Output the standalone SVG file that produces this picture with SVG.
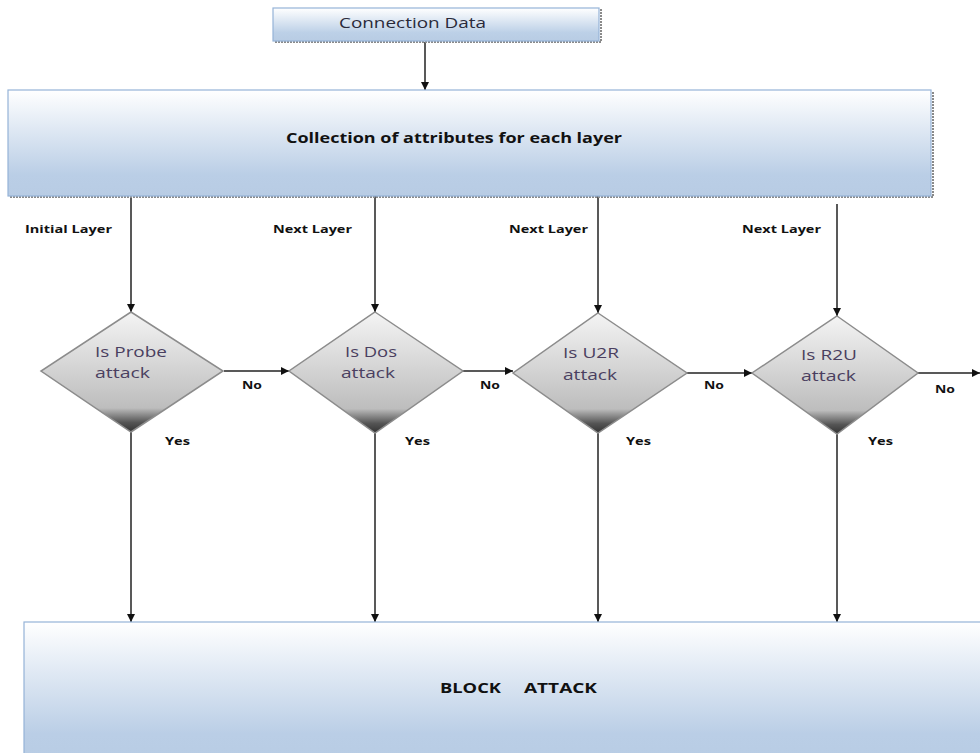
<svg xmlns="http://www.w3.org/2000/svg" width="980" height="753" viewBox="0 0 980 753">
<defs>
<linearGradient id="boxg" x1="0" y1="0" x2="0" y2="1">
<stop offset="0" stop-color="#ffffff"/>
<stop offset="0.75" stop-color="#bcd0e7"/>
<stop offset="1" stop-color="#b8cce4"/>
</linearGradient>
<linearGradient id="bigg" x1="0" y1="0" x2="0" y2="1">
<stop offset="0" stop-color="#ffffff"/>
<stop offset="0.8" stop-color="#bacee6"/>
<stop offset="1" stop-color="#b8cce4"/>
</linearGradient>
<linearGradient id="dg" x1="0" y1="0" x2="0" y2="1">
<stop offset="0" stop-color="#f4f4f4"/>
<stop offset="0.8" stop-color="#bdbdbd"/>
<stop offset="0.84" stop-color="#9a9a9a"/>
<stop offset="0.92" stop-color="#555555"/>
<stop offset="1" stop-color="#333333"/>
</linearGradient>
<marker id="ah" viewBox="0 0 10 10" refX="10" refY="5" markerWidth="8" markerHeight="8" markerUnits="userSpaceOnUse" orient="auto">
<path d="M0,0 L10,5 L0,10 z" fill="#111"/>
</marker>
</defs>
<style>
.box{fill:url(#boxg);stroke:#95b3d7;stroke-width:1.2}
.shadow{fill:none;stroke:#8a8a8a;stroke-width:2;stroke-dasharray:2 1}
.dia{fill:url(#dg);stroke:#8c8c8c;stroke-width:1.5}
.ln{fill:none;stroke:#222;stroke-width:1.5;marker-end:url(#ah)}
.lab{font-family:"Open Sans",Lato,"Liberation Sans",sans-serif;font-weight:bold;font-size:11px;fill:#111}
.bt{font-family:"Open Sans",Lato,"Liberation Sans",sans-serif;font-weight:bold;font-size:14px;fill:#111}
.dt{font-family:"Open Sans",Lato,"Liberation Sans",sans-serif;font-size:14.5px;fill:#4a3f60}
.ct{font-family:"Open Sans",Lato,"Liberation Sans",sans-serif;font-size:14px;fill:#2a2a3a}
</style>

<g id="connectors">
<path class="ln" d="M425,42 V90"/>
<path class="ln" d="M131,196 V312"/>
<path class="ln" d="M375,196 V312"/>
<path class="ln" d="M598,196 V313"/>
<path class="ln" d="M837,204 V316"/>
<path class="ln" d="M224,371 H289"/>
<path class="ln" d="M463,371 H513"/>
<path class="ln" d="M687,373 H752"/>
<path class="ln" d="M918,373 H980"/>
<path class="ln" d="M131,432 V622"/>
<path class="ln" d="M375,433 V622"/>
<path class="ln" d="M598,433 V622"/>
<path class="ln" d="M837,434 V622"/>
<text class="lab" x="25" y="233" textLength="87" lengthAdjust="spacingAndGlyphs">Initial Layer</text>
<text class="lab" x="273" y="233" textLength="79" lengthAdjust="spacingAndGlyphs">Next Layer</text>
<text class="lab" x="509" y="233" textLength="79" lengthAdjust="spacingAndGlyphs">Next Layer</text>
<text class="lab" x="742" y="233" textLength="79" lengthAdjust="spacingAndGlyphs">Next Layer</text>
<text class="lab" x="242" y="389" textLength="20" lengthAdjust="spacingAndGlyphs">No</text>
<text class="lab" x="480" y="389" textLength="20" lengthAdjust="spacingAndGlyphs">No</text>
<text class="lab" x="704" y="389" textLength="20" lengthAdjust="spacingAndGlyphs">No</text>
<text class="lab" x="935" y="393" textLength="20" lengthAdjust="spacingAndGlyphs">No</text>
<text class="lab" x="165" y="445" textLength="25" lengthAdjust="spacingAndGlyphs">Yes</text>
<text class="lab" x="405" y="445" textLength="25" lengthAdjust="spacingAndGlyphs">Yes</text>
<text class="lab" x="626" y="445" textLength="25" lengthAdjust="spacingAndGlyphs">Yes</text>
<text class="lab" x="868" y="445" textLength="25" lengthAdjust="spacingAndGlyphs">Yes</text>
</g>

<g id="connection-data">
<path class="shadow" d="M275,42 H601 V9"/>
<rect class="box" x="273" y="8" width="326" height="33"/>
<text class="ct" x="339" y="28" textLength="147" lengthAdjust="spacingAndGlyphs">Connection Data</text>
</g>

<g id="collection">
<path class="shadow" d="M10,197 H933 V92"/>
<rect class="box" style="fill:url(#bigg)" x="8" y="90" width="923" height="106"/>
<text class="bt" x="286" y="143" textLength="336" lengthAdjust="spacingAndGlyphs">Collection of attributes for each layer</text>
</g>

<g id="probe">
<polygon class="dia" points="131,312 223,371 131,432 41,371"/>
<text class="dt" x="95" y="357" textLength="72" lengthAdjust="spacingAndGlyphs">Is Probe</text>
<text class="dt" x="95" y="378" textLength="55" lengthAdjust="spacingAndGlyphs">attack</text>
</g>

<g id="dos">
<polygon class="dia" points="375,312 463,371 375,433 289,371"/>
<text class="dt" x="345" y="357" textLength="52" lengthAdjust="spacingAndGlyphs">Is Dos</text>
<text class="dt" x="341" y="378" textLength="54" lengthAdjust="spacingAndGlyphs">attack</text>
</g>

<g id="u2r">
<polygon class="dia" points="598,313 687,373 598,433 513,373"/>
<text class="dt" x="563" y="358" textLength="56" lengthAdjust="spacingAndGlyphs">Is U2R</text>
<text class="dt" x="563" y="380" textLength="54" lengthAdjust="spacingAndGlyphs">attack</text>
</g>

<g id="r2u">
<polygon class="dia" points="837,316 918,373 837,434 752,373"/>
<text class="dt" x="801" y="360" textLength="56" lengthAdjust="spacingAndGlyphs">Is R2U</text>
<text class="dt" x="801" y="381" textLength="55" lengthAdjust="spacingAndGlyphs">attack</text>
</g>

<g id="block-attack">
<rect class="box" style="fill:url(#bigg)" x="24" y="622" width="970" height="140"/>
<text class="bt" x="440" y="693" textLength="61" lengthAdjust="spacingAndGlyphs">BLOCK</text>
<text class="bt" x="524" y="693" textLength="73" lengthAdjust="spacingAndGlyphs">ATTACK</text>
</g>
</svg>
